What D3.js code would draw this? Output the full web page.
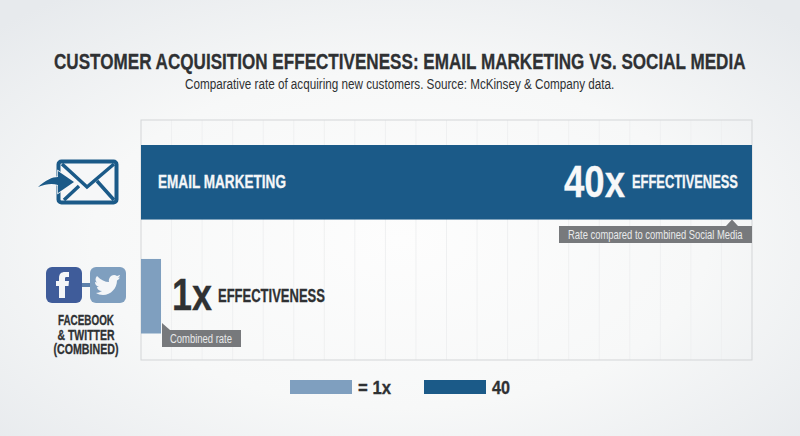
<!DOCTYPE html>
<html>
<head>
<meta charset="utf-8">
<script src="https://cdn.jsdelivr.net/npm/d3@7"></script>
<style>
  html, body { margin: 0; padding: 0; background: #eef0f2; }
  svg { display: block; }
  text { font-family: "Liberation Sans", sans-serif; }
</style>
</head>
<body>
<div id="main"></div>
<script>
// chart data
var categories = ["Email Marketing", "Facebook & Twitter (Combined)"];
var multipliers = [40, 1];
// bar lengths as measured in the picture, the 1x bar is drawn a bit longer than 1/40
var barLengths = [40, 1.31];
var barNames = ["EMAIL MARKETING", ""];
var socialLabel = ["FACEBOOK", "& TWITTER", "(COMBINED)"];
var legendLabels = ["= 1x", "40"];
var gridCount = 20;

var darkBlue = "#1b5a88", lightBlue = "#7f9fbf", grey = "#77797c", ink = "#2f3133";

var svg = d3.select("#main").append("svg")
    .attr("width", 800)
    .attr("height", 436);

// no condensed font is installed, so squeeze each text to its width in the picture
function label(px, py, size, bold, color, width, str) {
  var t = svg.append("text")
      .attr("font-size", size)
      .attr("font-weight", bold ? "bold" : "normal")
      .attr("fill", color)
      .text(str);
  if (bold) {
    t.attr("stroke", color).attr("stroke-width", 0.3);
  }
  var natural = t.node().getComputedTextLength();
  t.attr("transform", "translate(" + px + "," + py + ") scale(" + (width / natural) + ",1)");
  return t;
}

var defs = svg.append("defs");
var bg = defs.append("radialGradient").attr("id", "bg")
    .attr("cx", "50%").attr("cy", "55%").attr("r", "70%");
bg.append("stop").attr("offset", "0%").attr("stop-color", "#fdfdfd");
bg.append("stop").attr("offset", "55%").attr("stop-color", "#f7f8f8");
bg.append("stop").attr("offset", "100%").attr("stop-color", "#e7eaed");

svg.append("rect")
    .attr("width", 800)
    .attr("height", 436)
    .attr("fill", "url(#bg)");

// title
label(54, 69, 22.5, true, ink, 692, "CUSTOMER ACQUISITION EFFECTIVENESS: EMAIL MARKETING VS. SOCIAL MEDIA");
label(185, 89, 14.5, false, ink, 430, "Comparative rate of acquiring new customers. Source: McKinsey & Company data.");

// scales
var x = d3.scaleLinear().domain([0, 40]).range([141, 752]);
var y = d3.scaleBand().domain(categories).range([145, 333.5]).paddingInner(0.346);

// plot frame and grid
svg.append("g")
    .selectAll("line")
    .data(x.ticks(gridCount).slice(1, -1))
    .enter()
    .append("line")
    .attr("x1", function(d) { return x(d); })
    .attr("x2", function(d) { return x(d); })
    .attr("y1", 120)
    .attr("y2", 360)
    .attr("stroke", "#eff0f1");

svg.append("rect")
    .attr("x", x(0)).attr("y", 120)
    .attr("width", x(40) - x(0)).attr("height", 240)
    .attr("fill", "none")
    .attr("stroke", "#d3d5d7");

// bars
svg.append("g")
    .selectAll("rect")
    .data(categories)
    .enter()
    .append("rect")
    .attr("x", x(0))
    .attr("y", function(d) { return y(d); })
    .attr("width", function(d, i) { return x(barLengths[i]) - x(0); })
    .attr("height", y.bandwidth())
    .attr("fill", function(d, i) { return i == 0 ? darkBlue : lightBlue; });

label(158, y(categories[0]) + 43, 17.5, true, "#f4f6f8", 128, barNames[0]);

// big numbers
label(564, y(categories[0]) + 52, 45, true, "#f7f8f9", 61, multipliers[0] + "x");
label(632, y(categories[0]) + 43, 17.5, true, "#f4f6f8", 106, "EFFECTIVENESS");
label(172, y(categories[1]) + 51, 45, true, ink, 40, multipliers[1] + "x");
label(218, y(categories[1]) + 43, 17.5, true, ink, 107, "EFFECTIVENESS");

// callouts
svg.append("path").attr("d", "M726,226L732,219.5L738,226Z").attr("fill", grey);
svg.append("rect")
    .attr("x", 559).attr("y", 226)
    .attr("width", 193).attr("height", 17)
    .attr("fill", grey);
label(568, 239, 12, false, "#e8e9ea", 175, "Rate compared to combined Social Media");

svg.append("path").attr("d", "M162,323L170,330L162,330Z").attr("fill", grey);
svg.append("rect")
    .attr("x", 162).attr("y", 330)
    .attr("width", 79).attr("height", 17)
    .attr("fill", grey);
label(170, 343, 12, false, "#e8e9ea", 62, "Combined rate");

// email icon
var mail = svg.append("g");
mail.append("rect")
    .attr("x", 58.5).attr("y", 161.5)
    .attr("width", 58).attr("height", 41).attr("rx", 3)
    .attr("fill", "#f6f7f8")
    .attr("stroke", darkBlue).attr("stroke-width", 4);
mail.append("path")
    .attr("d", "M62,164L87,187L114,164M114,200L97,181M64,200L79,186")
    .attr("fill", "none")
    .attr("stroke", darkBlue).attr("stroke-width", 3.5);
mail.append("path")
    .attr("d", "M38,187C46,180 52,177 58,177L58,171L74,182L58,193L58,185C52,183 46,184 38,187Z")
    .attr("fill", darkBlue)
    .attr("stroke", "#f6f7f8").attr("stroke-width", 1.5)
    .attr("paint-order", "stroke");

// social icons
svg.append("rect")
    .attr("x", 80).attr("y", 283)
    .attr("width", 12).attr("height", 4)
    .attr("fill", "#5d80aa");
svg.append("rect")
    .attr("x", 46).attr("y", 267)
    .attr("width", 36).attr("height", 36).attr("rx", 6)
    .attr("fill", "#3f5c9a");
svg.append("rect")
    .attr("x", 90).attr("y", 267)
    .attr("width", 36).attr("height", 36).attr("rx", 6)
    .attr("fill", lightBlue);
svg.append("path")
    .attr("d", "M59,298L59,286L56,286L56,281L59,281L59,278C59,274 61,272 65,272L69,272L69,277L66,277C65,277 65,278 65,279L65,281L69,281L68.500,286L65,286L65,298Z")
    .attr("fill", "#f4f6f8");
svg.append("path")
    .attr("d", "M97,276C101,280 105,282 109,282C108,277 113,273 117,276C118,276 119,275 120,275C120,276 119,277 118,278L120,277.500C119,279 118,280 117,280.500C117,288 111,295 103,295C100,295 98,294 96,293C98,293 100,292 102,291C99,291 97,289 97,287L99,287C96,286 95,284 95,282L97,282.500C95,281 95,278 97,276Z")
    .attr("fill", "#f4f6f8");

var socialWidth = [56, 57, 65];
socialLabel.forEach(function(d, i) {
  label(86 - socialWidth[i] / 2, 325 + i * 14.5, 14, true, ink, socialWidth[i], d);
});

// legend
var legendX = [290, 424];
var legendWidth = [33, 18];
legendLabels.forEach(function(d, i) {
  svg.append("rect")
      .attr("x", legendX[i])
      .attr("y", 380)
      .attr("width", 62)
      .attr("height", 14)
      .attr("fill", i == 0 ? lightBlue : darkBlue);
  label(legendX[i] + 68, 394, 18, true, ink, legendWidth[i], d);
});
</script>
</body>
</html>
